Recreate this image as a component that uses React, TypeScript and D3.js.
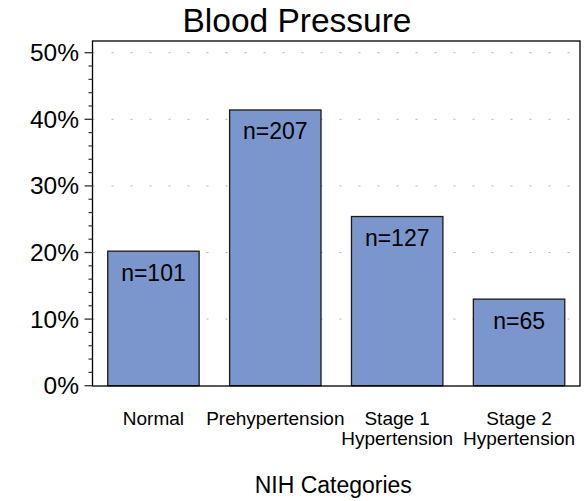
import React from "react";
import * as d3 from "d3";

const categories = ["Normal", "Prehypertension", "Stage 1\nHypertension", "Stage 2\nHypertension"];
const counts = [101, 207, 127, 65];
const yTicks = [0, 10, 20, 30, 40, 50];
const yMinorTicks = [2, 4, 6, 8, 12, 14, 16, 18, 22, 24, 26, 28, 32, 34, 36, 38, 42, 44, 46, 48];
const title = "Blood Pressure";
const xTitle = "NIH Categories";

const W = 588;
const H = 501;
const left = 92.5;
const right = 580;
const top = 41;
const bottom = 386;

export default function App() {
  const total = d3.sum(counts);
  const pct = counts.map((c) => (c / total) * 100);
  const x = d3.scaleBand<string>().domain(categories).range([left, right]).paddingInner(0.25).paddingOuter(0.125);
  const y = d3.scaleLinear().domain([0, 50]).range([385.7, 52.7]);
  const font = "Liberation Sans, Arial, Helvetica, sans-serif";

  return (
    <svg width={W} height={H} style={{ position: "absolute", left: 0, top: 0, background: "#fff" }} fontFamily={font}>
      <text x={297} y={32} textAnchor="middle" fontSize={33.5} fill="#000">{title}</text>
      {yTicks.filter((t) => t > 0).map((t) => (
        <line key={"g" + t} x1={left} x2={right} y1={y(t)} y2={y(t)} stroke="#b4b4b4" strokeWidth={1} strokeDasharray="2,17" />
      ))}
      {categories.map((c, i) => (
        <g key={c}>
          <rect x={x(c)} y={y(pct[i])} width={x.bandwidth()} height={y(0) - y(pct[i])} fill="#7b96cc" stroke="#1a1a1a" strokeWidth={1.3} />
          <text x={(x(c) as number) + x.bandwidth() / 2} y={y(pct[i]) + 29.5} textAnchor="middle" fontSize={23} fill="#000">{"n=" + counts[i]}</text>
          {c.split("\n").map((line, j) => (
            <text key={j} x={(x(c) as number) + x.bandwidth() / 2} y={424.5 + j * 20.5} textAnchor="middle" fontSize={19} fill="#000">{line}</text>
          ))}
        </g>
      ))}
      <rect x={left} y={top} width={right - left} height={bottom - top} fill="none" stroke="#000" strokeWidth={1.3} />
      {yTicks.map((t) => (
        <g key={"t" + t}>
          <line x1={left - 8} x2={left} y1={y(t)} y2={y(t)} stroke="#333" strokeWidth={1.3} />
          <text x={79} y={y(t) + 8.5} textAnchor="end" fontSize={24.5} fill="#000">{t + "%"}</text>
        </g>
      ))}
      {yMinorTicks.map((t) => (
        <line key={"m" + t} x1={left - 4} x2={left} y1={y(t)} y2={y(t)} stroke="#333" strokeWidth={1.2} />
      ))}
      <text x={(left + right) / 2 - 3} y={493} textAnchor="middle" fontSize={23} fill="#000">{xTitle}</text>
    </svg>
  );
}
